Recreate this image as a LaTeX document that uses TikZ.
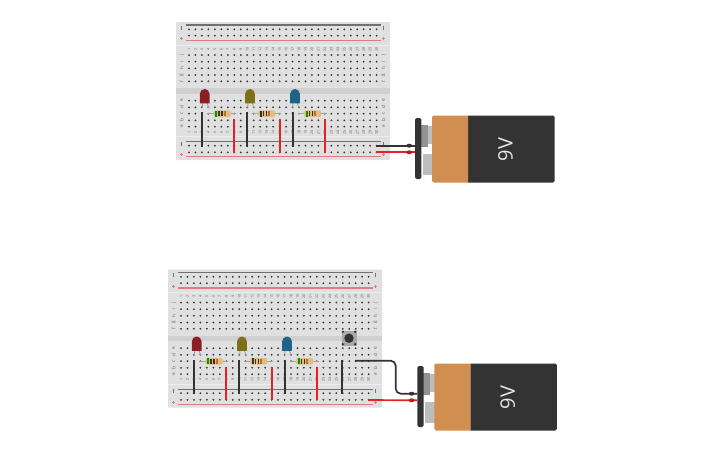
\documentclass[tikz,border=0pt]{standalone}
\usepackage{fontspec}
\setmainfont{Open Sans}
\definecolor{boardbg}{HTML}{E0E0E0}
\definecolor{boardgut}{HTML}{D0D0D0}
\definecolor{boardsep}{HTML}{EDEDED}
\definecolor{holec}{HTML}{333333}
\definecolor{labc}{HTML}{5A5A5A}
\definecolor{railred}{HTML}{E07C7E}
\definecolor{railblk}{HTML}{707070}
\definecolor{wblk}{HTML}{333333}
\definecolor{wred}{HTML}{E32228}
\definecolor{ledr}{HTML}{8A1F24}
\definecolor{ledy}{HTML}{7E7018}
\definecolor{ledb}{HTML}{1E6488}
\definecolor{legc}{HTML}{A0A0A0}
\definecolor{resb}{HTML}{E4BC7C}
\definecolor{batdark}{HTML}{333333}
\definecolor{batorg}{HTML}{D08E50}
\definecolor{termdk}{HTML}{929292}
\definecolor{termlt}{HTML}{BDBDBD}
\definecolor{btnbg}{HTML}{A9A9A9}
\tikzset{
  x=1pt,y=-1pt,
  tinylab/.style={text=labc,font=\fontsize{3.6}{4}\selectfont,inner sep=0pt,rotate=90},
  wireblk/.style={draw=wblk,line width=2pt},
  wirered/.style={draw=wred,line width=2pt},
  holedot/.style={fill=holec},
  ledlead/.style={draw=legc,line width=0.9pt},
  pics/bboard/.style={code={
    \fill[boardbg,rounded corners=1pt] (176,22) rectangle (390,160);
    \fill[boardgut] (176,88.3) rectangle (390,93.7);
    \fill[boardsep] (176,44.6) rectangle (390,45.4);
    \fill[boardsep] (176,136.4) rectangle (390,137.2);
    \draw[railblk,line width=1.2pt] (185.7,25) -- (380.7,25);
    \draw[railred,line width=1.4pt] (185.7,40.3) -- (380.7,40.3);
    \draw[railblk,line width=1.2pt] (185.7,141.7) -- (380.7,141.7);
    \draw[railred,line width=1.4pt] (185.7,156.7) -- (380.7,156.7);
    \foreach \xx in {181.7,383.3}\foreach \yy in {27.7,143.7}{
      \draw[railblk,line width=.6pt] (\xx,\yy-2) -- (\xx,\yy+2);
    }
    \foreach \xx in {181.7,383.3}\foreach \yy in {38.7,154.7}{
      \draw[railred,line width=.7pt] (\xx-1.7,\yy) -- (\xx+1.7,\yy) (\xx,\yy-1.7) -- (\xx,\yy+1.7);
    }
    \foreach \c in {0,...,29}{
      \pgfmathsetmacro{\xx}{189+6.47*\c}
      \foreach \yy in {29.3,35.7,55,61.7,68.3,75,81.3,100.7,107.3,113.7,120.3,126.7,145.7,152.3}
        \fill[holedot] (\xx,\yy) circle (1);
      \pgfmathtruncatemacro{\nn}{\c+1}
      \node[tinylab] at (\xx,49.3) {\nn};
      \node[tinylab] at (\xx,132) {\nn};
    }
    \foreach \xx in {181.7,383.3}{
      \foreach \yy/\ll in {55/j,61.7/i,68.3/h,75/g,81.3/f,100.7/e,107.3/d,113.7/c,120.3/b,126.7/a}
        \node[tinylab,font=\fontsize{4.6}{5}\selectfont] at (\xx,\yy) {\ll};
    }
    \foreach \cx/\lc in {204.7/ledr,250/ledy,295/ledb}{
      \draw[ledlead] (\cx-2,102) -- (\cx-2.3,108);
      \draw[ledlead] (\cx+2,102) -- (\cx+4,108);
      \fill[\lc] (\cx-4.8,103.3) -- (\cx-4.8,93.8) arc[start angle=180,end angle=360,radius=4.8] -- (\cx+4.8,103.3) -- cycle;
    }
    \foreach \cx/\ba in {222.3/green!60!black,266.7/wblk,312.7/green!60!black}{
      \draw[legc,line width=1pt] (\cx-14.8,113.7) -- (\cx+14,113.7);
      \fill[resb,rounded corners=2pt] (\cx-8.5,110.4) rectangle (\cx+8.5,117);
      \fill[\ba] (\cx-7,110.5) rectangle (\cx-5.2,116.9);
      \fill[black!80] (\cx-4,111) rectangle (\cx-2.4,116.4);
      \fill[black!70!orange] (\cx-1.2,111) rectangle (\cx+.4,116.4);
      \fill[brown!90!black] (\cx+1.6,111) rectangle (\cx+3.2,116.4);
    }
    \coordinate (-k1t) at (202,112.3); \coordinate (-k1b) at (202,146.7);
    \coordinate (-k2t) at (247.3,112.3); \coordinate (-k2b) at (247.3,146.7);
    \coordinate (-k3t) at (292.7,112.3); \coordinate (-k3b) at (292.7,146.7);
    \coordinate (-k4t) at (350.3,112.3); \coordinate (-k4b) at (350.3,146.7);
    \coordinate (-r1t) at (234.3,119.3); \coordinate (-r1b) at (234.3,152.7);
    \coordinate (-r2t) at (279.7,119.3); \coordinate (-r2b) at (279.7,152.7);
    \coordinate (-r3t) at (325,119.3); \coordinate (-r3b) at (325,152.7);
  }},
  pics/battery/.style={code={
    \fill[termdk] (420.7,124.5) rectangle (428,146.5);
    \fill[termlt] (428,126) rectangle (433,144);
    \fill[termlt] (423,153.7) rectangle (433,175);
    \fill[batdark] (468,115.5) [rounded corners=1.5pt] -- (554.5,115.5) -- (554.5,182.5) [sharp corners] -- (468,182.5) -- cycle;
    \fill[batorg] (468,115.5) [rounded corners=1.5pt] -- (432,115.5) -- (432,182.5) [sharp corners] -- (468,182.5) -- cycle;
    \fill[batdark,rounded corners=1.5pt] (415,118) rectangle (421.3,179);
    \node[rotate=90,text=black!10,font=\fontsize{20}{22}\selectfont,inner sep=0pt] (-lab) at (505.5,149.5) {9V};
    \coordinate (-neg) at (415,145.7);
    \coordinate (-pos) at (415,152.3);
    \coordinate (-negc) at (409.3,145.7);
    \coordinate (-posc) at (409.3,152.3);
  }}
}
\begin{document}
\begin{tikzpicture}
\useasboundingbox (0,0) rectangle (725,453);
\fill[white] (0,0) rectangle (725,453);
% top circuit
\pic (ba) at (0,0) {bboard};
\pic (ca) at (0,0) {battery};
\draw[wireblk] (ba-k1t) -- (ba-k1b);
\draw[wireblk] (ba-k2t) -- (ba-k2b);
\draw[wireblk] (ba-k3t) -- (ba-k3b);
\draw[wirered] (ba-r1t) -- (ba-r1b);
\draw[wirered] (ba-r2t) -- (ba-r2b);
\draw[wirered] (ba-r3t) -- (ba-r3b);
\coordinate (aw1) at (376,145.7);
\coordinate (aw2) at (376,152.3);
\draw[wireblk,line width=1.7pt] (aw1) -- (ca-neg);
\draw[wirered,line width=1.7pt] (aw2) -- (ca-pos);
\fill[wblk] (ca-negc) ellipse (2.8 and 2);
\fill[wred!80!black] (ca-posc) ellipse (2.8 and 2);
% bottom circuit
\pic (bb) at (-8,247.5) {bboard};
\pic (cb) at (2.3,248) {battery};
% push button
\fill[btnbg] (341.5,330.5) rectangle (356.5,345.5);
\foreach \bx/\by in {342.8/331.8,355.2/331.8,342.8/344.2,355.2/344.2}
  \fill[wblk] (\bx,\by) circle (1.3);
\node[circle,fill=wblk,minimum size=9.4pt,inner sep=0pt] (btn) at (349,338.2) {};
\draw[wireblk] (bb-k1t) -- (bb-k1b);
\draw[wireblk] (bb-k2t) -- (bb-k2b);
\draw[wireblk] (bb-k3t) -- (bb-k3b);
\draw[wireblk] (bb-k4t) -- (bb-k4b);
\draw[wirered] (bb-r1t) -- (bb-r1b);
\draw[wirered] (bb-r2t) -- (bb-r2b);
\draw[wirered] (bb-r3t) -- (bb-r3b);
\coordinate (bw1) at (355,360.7);
\coordinate (bw2) at (368,400);
\coordinate (bc1) at (395.7,360.7);
\coordinate (bc2) at (395.7,393.7);
\draw[wireblk,line width=1.7pt,rounded corners=5pt] (bw1) -- (bc1) -- (bc2) -- (cb-neg);
\draw[wirered,line width=1.7pt] (bw2) -- (cb-pos);
\fill[wblk] (cb-negc) ellipse (2.8 and 2);
\fill[wred!80!black] (cb-posc) ellipse (2.8 and 2);
\end{tikzpicture}
\end{document}
